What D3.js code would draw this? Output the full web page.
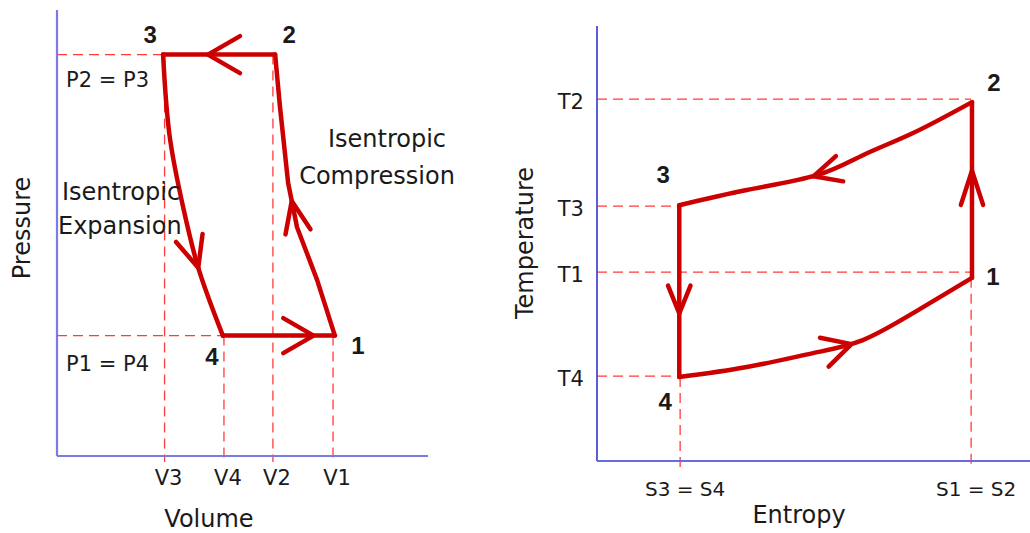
<!DOCTYPE html>
<html>
<head>
<meta charset="utf-8">
<script src="https://cdn.jsdelivr.net/npm/d3@7"></script>
<style>
  html, body { margin: 0; padding: 0; background: #fff; }
  svg { display: block; }
  text { font-family: "DejaVu Sans", "Noto Sans", sans-serif; fill: #1a1a1a; }
</style>
</head>
<body>
<svg id="chart" width="1030" height="533"></svg>
<script>
// ---------------- DATA ----------------
// P-V diagram
const volumeTicks = ["V3", "V4", "V2", "V1"];
const volumeValues = [2.9, 4.5, 5.82, 7.44];
const pressureTicks = ["P2 = P3", "P1 = P4"];
const pressureValues = [9.0, 2.7];
const pvStateNames = ["1", "2", "3", "4"];
const pvStateV = [7.49, 5.88, 2.86, 4.47];
const pvStateP = [2.7, 9.0, 9.0, 2.7];
const compressionV = [7.49, 7.01, 6.47, 6.23, 6.01, 5.88];
const compressionP = [2.7, 3.95, 5.13, 6.12, 7.83, 9.0];
const expansionV = [2.86, 3.05, 3.40, 3.80, 4.47];
const expansionP = [9.0, 7.09, 5.58, 4.24, 2.7];

// T-S diagram
const entropyTicks = ["S3 = S4", "S1 = S2"];
const entropyValues = [1.92, 8.64];
const tempTicks = ["T2", "T3", "T1", "T4"];
const tempValues = [8.32, 5.86, 4.34, 1.95];
const tsStateNames = ["1", "2", "3", "4"];
const tsStateS = [8.66, 8.66, 1.90, 1.90];
const tsStateT = [4.21, 8.25, 5.88, 1.93];
const heatRejectS = [8.66, 7.30, 6.14, 5.08, 3.46, 1.90];
const heatRejectT = [8.25, 7.54, 7.03, 6.57, 6.23, 5.88];
const heatAddS = [1.90, 3.46, 4.99, 6.14, 7.30, 8.66];
const heatAddT = [1.93, 2.16, 2.48, 2.78, 3.40, 4.21];

// ---------------- DRAW ----------------
const svg = d3.select("#chart");
const RED = "#cc0000";
const DASH = "#ff3b3b";

function drawArrow(g, pathSel, frac, len, spread) {
  const node = pathSel.node();
  const L = node.getTotalLength();
  const p = node.getPointAtLength(frac * L);
  const q = node.getPointAtLength(Math.max(0, frac * L - 3));
  const a = Math.atan2(p.y - q.y, p.x - q.x);
  const s = spread * Math.PI / 180;
  const w1 = [p.x - len * Math.cos(a - s), p.y - len * Math.sin(a - s)];
  const w2 = [p.x - len * Math.cos(a + s), p.y - len * Math.sin(a + s)];
  g.append("path")
    .attr("d", `M${w1[0]},${w1[1]}L${p.x},${p.y}L${w2[0]},${w2[1]}`)
    .attr("fill", "none").attr("stroke", RED).attr("stroke-width", 4.5)
    .attr("stroke-linecap", "round").attr("stroke-linejoin", "round");
}

function seg(g, line, pts) {
  return g.append("path").attr("d", line(pts))
    .attr("fill", "none").attr("stroke", RED).attr("stroke-width", 4.5)
    .attr("stroke-linecap", "round").attr("stroke-linejoin", "round");
}

function dashed(g, x1, y1, x2, y2) {
  g.append("line").attr("x1", x1).attr("y1", y1).attr("x2", x2).attr("y2", y2)
    .attr("stroke", DASH).attr("stroke-width", 1.3).attr("stroke-dasharray", "10,6");
}

function label(g, x, y, txt, size, anchor) {
  return g.append("text").attr("x", x).attr("y", y)
    .attr("text-anchor", anchor || "middle").attr("dominant-baseline", "central")
    .attr("font-size", size).text(txt);
}

// ===== P-V =====
(function () {
  const x = d3.scaleLinear().domain([0, 10]).range([57, 428]);
  const y = d3.scaleLinear().domain([0, 10]).range([456, 10]);
  const g = svg.append("g");
  const smooth = d3.line().x(d => x(d[0])).y(d => y(d[1])).curve(d3.curveMonotoneY);
  const straight = d3.line().x(d => x(d[0])).y(d => y(d[1]));

  // reference dashed lines
  dashed(g, x(0), y(pressureValues[0]), x(pvStateV[2]), y(pressureValues[0]));
  dashed(g, x(0), y(pressureValues[1]), x(pvStateV[3]), y(pressureValues[1]));
  const vTop = [pressureValues[0], pressureValues[1], pressureValues[0], pressureValues[1]];
  volumeValues.forEach((v, i) => dashed(g, x(v), y(vTop[i]), x(v), y(0) + 6));

  // axes
  g.append("line").attr("x1", x(0)).attr("y1", y(10)).attr("x2", x(0)).attr("y2", y(0))
    .attr("stroke", "#7b7be6").attr("stroke-width", 2.2);
  g.append("line").attr("x1", x(0)).attr("y1", y(0)).attr("x2", x(10)).attr("y2", y(0))
    .attr("stroke", "#7b7be6").attr("stroke-width", 2.2);

  // cycle
  const c12 = seg(g, straight, compressionV.map((v, i) => [v, compressionP[i]]));
  const c23 = seg(g, straight, [[pvStateV[1], pvStateP[1]], [pvStateV[2], pvStateP[2]]]);
  const c34 = seg(g, smooth, expansionV.map((v, i) => [v, expansionP[i]]));
  const c41 = seg(g, straight, [[pvStateV[3], pvStateP[3]], [pvStateV[0], pvStateP[0]]]);
  drawArrow(g, c12, 0.49, 34, 22);
  drawArrow(g, c23, 0.6, 37, 30);
  drawArrow(g, c34, 0.75, 34, 24);
  drawArrow(g, c41, 0.81, 35, 30);

  // tick labels
  volumeTicks.forEach((t, i) => label(g, x(volumeValues[i]) + 4, 478, t, 21));
  const pLabelY = [80, 364];
  pressureTicks.forEach((t, i) => label(g, 66, pLabelY[i], t, 21, "start"));

  // state labels
  const off = [[23, 10], [14, -20], [-13, -20], [-11, 21]];
  pvStateNames.forEach((n, i) => label(g, x(pvStateV[i]) + off[i][0], y(pvStateP[i]) + off[i][1], n, 24)
    .attr("font-weight", "bold").style("font-family", "'Liberation Sans', Arial, sans-serif"));

  // annotations
  label(g, 387, 139, "Isentropic", 24);
  label(g, 377, 176, "Compression", 24);
  label(g, 62, 192, "Isentropic", 24, "start");
  label(g, 58, 226, "Expansion", 24, "start");

  // axis titles
  label(g, 209, 519, "Volume", 24);
  label(g, 0, 0, "Pressure", 24).attr("transform", "translate(22,228) rotate(-90)");
})();

// ===== T-S =====
(function () {
  const x = d3.scaleLinear().domain([0, 10]).range([597, 1030]);
  const y = d3.scaleLinear().domain([0, 10]).range([461, 26]);
  const g = svg.append("g");
  const line = d3.line().x(d => x(d[0])).y(d => y(d[1])).curve(d3.curveNatural);
  const straight = d3.line().x(d => x(d[0])).y(d => y(d[1]));

  // dashed
  const tEnd = [entropyValues[1], entropyValues[0], entropyValues[1], entropyValues[0]];
  tempValues.forEach((t, i) => dashed(g, x(0), y(t), x(tEnd[i]), y(t)));
  dashed(g, x(entropyValues[0]), y(tsStateT[3]), x(entropyValues[0]), y(0) + 6);
  dashed(g, x(entropyValues[1]), y(tsStateT[0]), x(entropyValues[1]), y(0) + 6);

  // axes
  g.append("line").attr("x1", x(0)).attr("y1", y(10)).attr("x2", x(0)).attr("y2", y(0))
    .attr("stroke", "#4a4ad8").attr("stroke-width", 1.8);
  g.append("line").attr("x1", x(0)).attr("y1", y(0)).attr("x2", x(10)).attr("y2", y(0))
    .attr("stroke", "#6a6ae0").attr("stroke-width", 2.2);

  // cycle
  const c12 = seg(g, straight, [[tsStateS[0], tsStateT[0]], [tsStateS[1], tsStateT[1]]]);
  const c23 = seg(g, line, heatRejectS.map((s, i) => [s, heatRejectT[i]]));
  const c34 = seg(g, straight, [[tsStateS[2], tsStateT[2]], [tsStateS[3], tsStateT[3]]]);
  const c41 = seg(g, line, heatAddS.map((s, i) => [s, heatAddT[i]]));
  drawArrow(g, c12, 0.61, 36, 18);
  drawArrow(g, c23, 0.56, 30, 26);
  drawArrow(g, c34, 0.63, 30, 22);
  drawArrow(g, c41, 0.56, 32, 28);

  // tick labels
  tempTicks.forEach((t, i) => label(g, 584, y(tempValues[i]) + 3, t, 21, "end"));
  entropyTicks.forEach((t, i) => label(g, x(entropyValues[i]) + 5, 489, t, 20));

  // state labels
  const off = [[21, -1], [22, -20], [-16, -31], [-14, 24]];
  tsStateNames.forEach((n, i) => label(g, x(tsStateS[i]) + off[i][0], y(tsStateT[i]) + off[i][1], n, 24)
    .attr("font-weight", "bold").style("font-family", "'Liberation Sans', Arial, sans-serif"));

  label(g, 799, 515, "Entropy", 24);
  label(g, 0, 0, "Temperature", 24).attr("transform", "translate(525,243) rotate(-90)");
})();
</script>
</body>
</html>
